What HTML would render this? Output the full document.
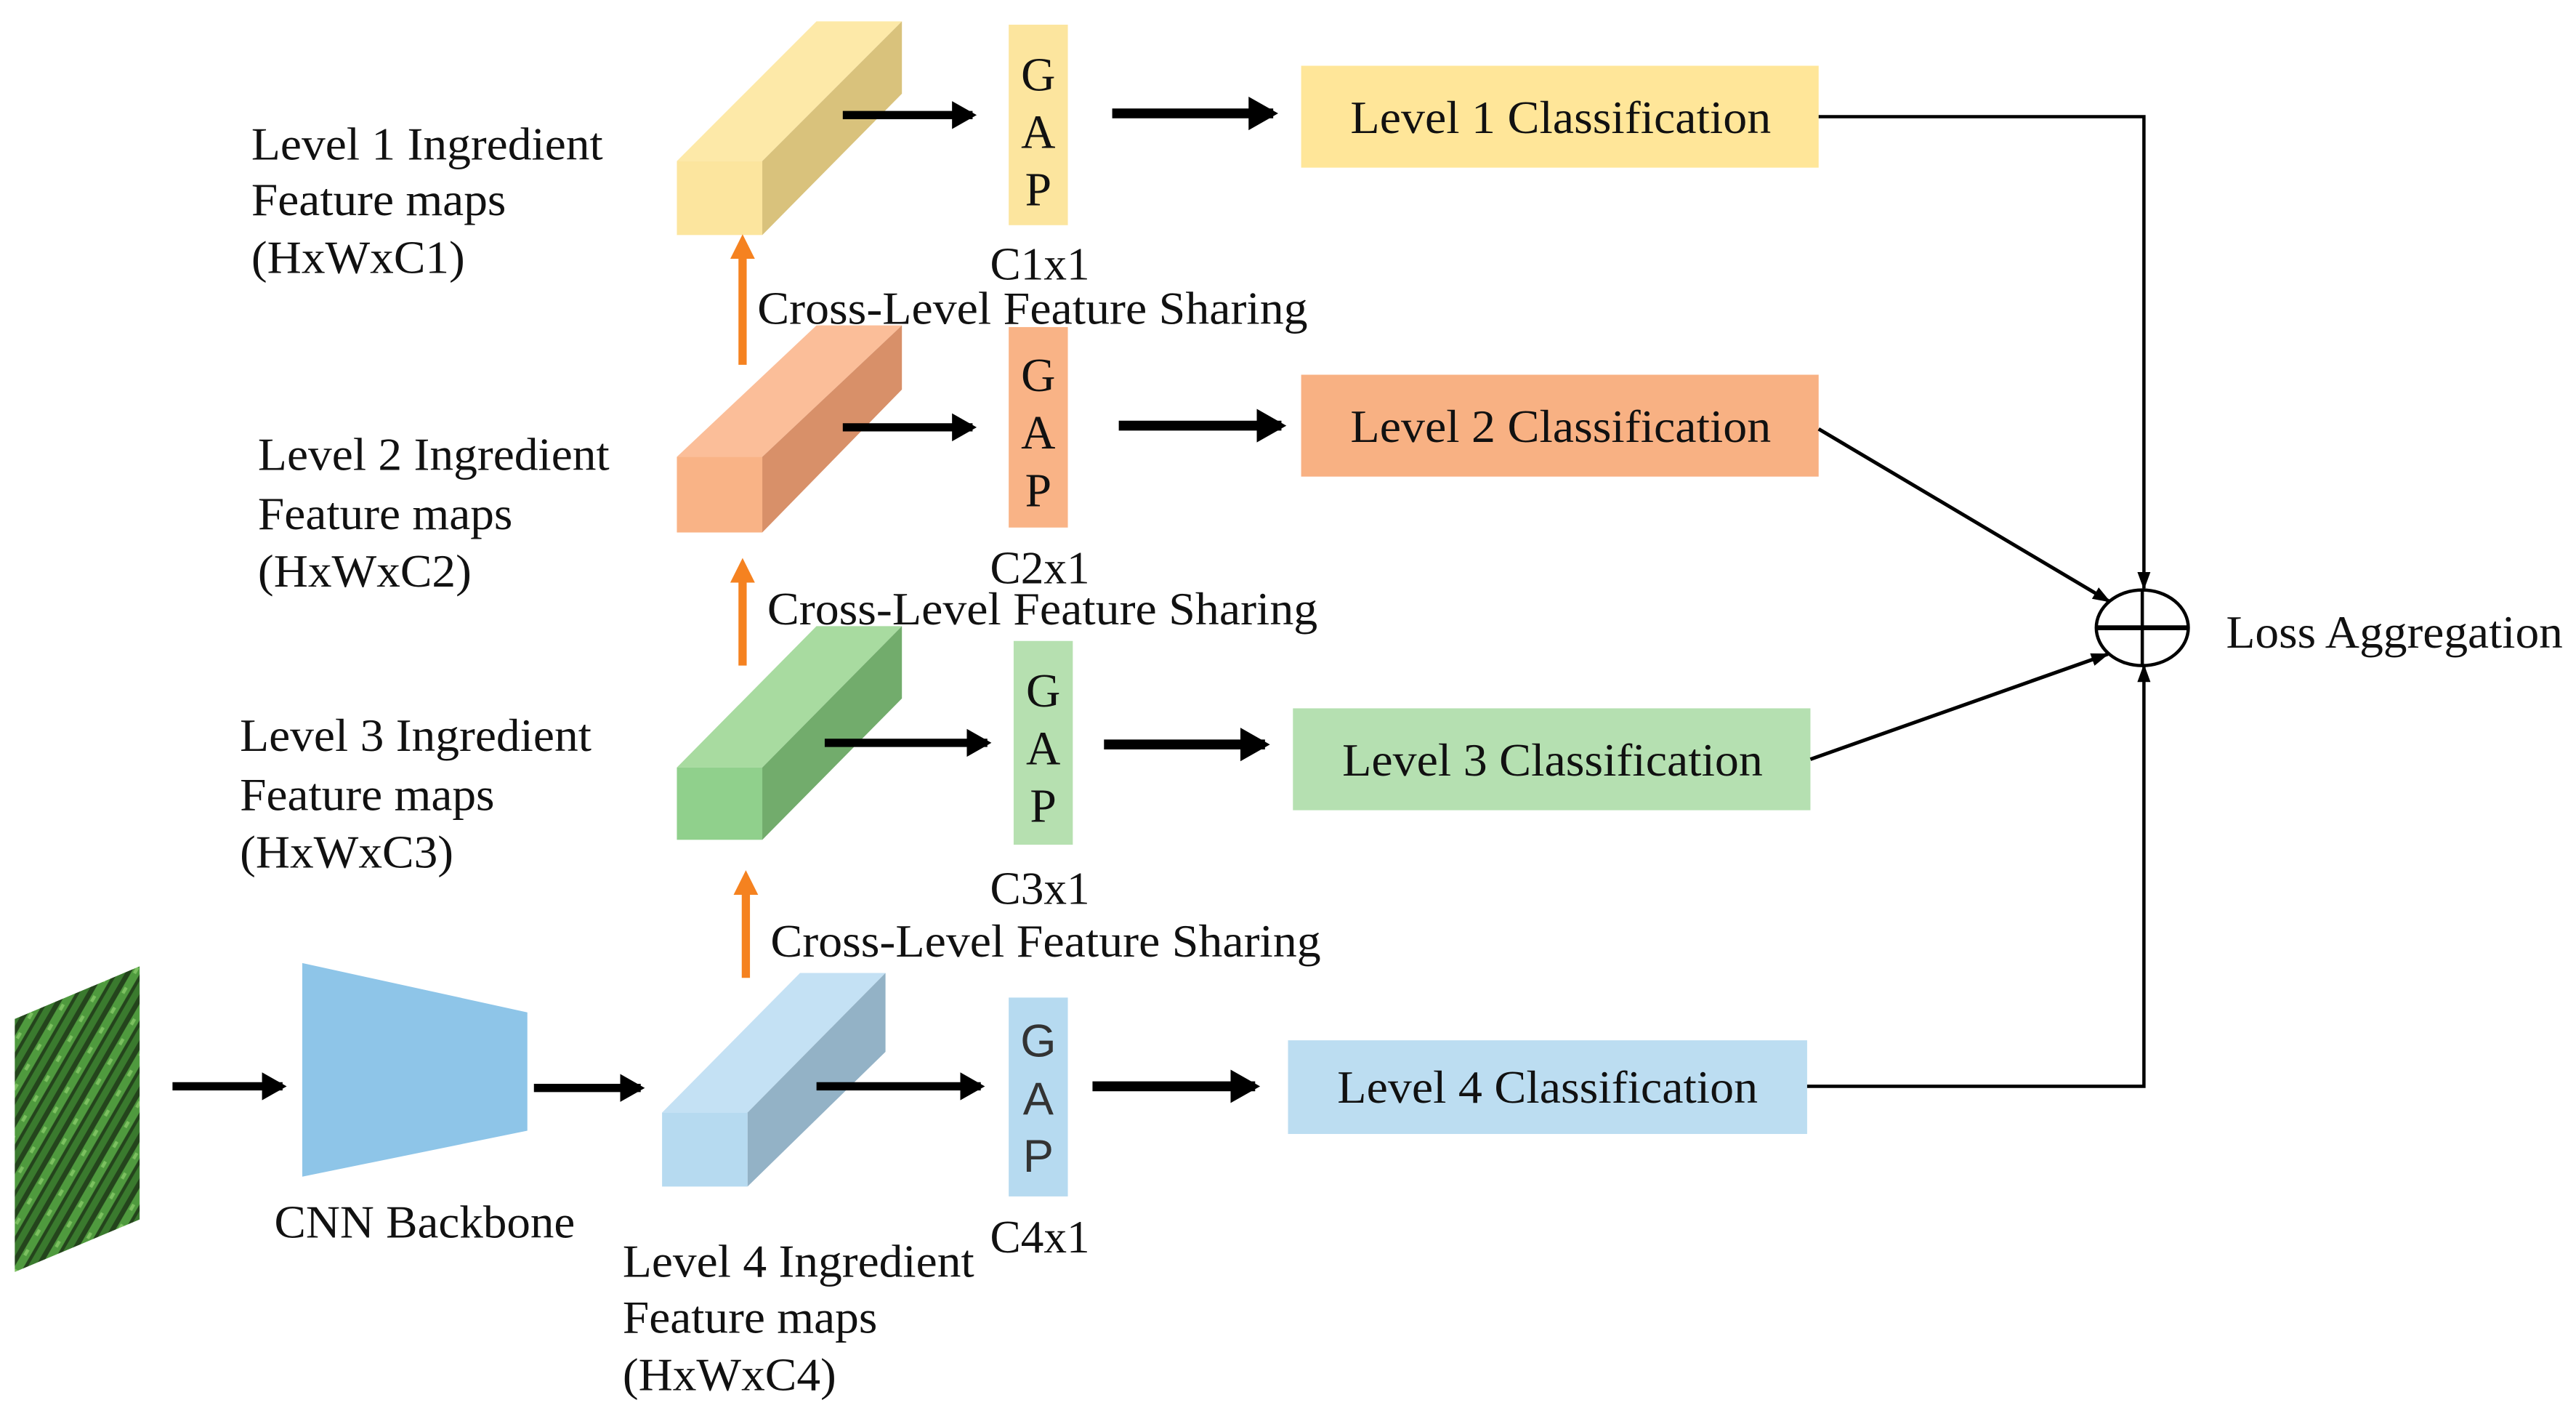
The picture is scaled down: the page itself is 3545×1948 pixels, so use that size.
<!DOCTYPE html>
<html><head><meta charset="utf-8"><style>html,body{margin:0;padding:0;background:#fff}svg{display:block}</style></head>
<body>
<svg width="3545" height="1948" viewBox="0 0 1568 861.6" xmlns="http://www.w3.org/2000/svg" font-family="Liberation Serif, serif" fill="#111">
<defs>
<marker id="ah" markerWidth="4" markerHeight="4" refX="2.5" refY="2" orient="auto" markerUnits="strokeWidth"><path d="M0,0.3 L3,2 L0,3.7 Z" fill="#000"/></marker>
<marker id="th" markerWidth="12" markerHeight="10" refX="10" refY="5" orient="auto" markerUnits="userSpaceOnUse"><path d="M0,1 L11,5 L0,9 Z" fill="#000"/></marker>
<marker id="oh" markerWidth="3" markerHeight="3" refX="1.5" refY="1.5" orient="auto" markerUnits="strokeWidth"><path d="M0,0 L3,1.5 L0,3 Z" fill="#F58220"/></marker>
<pattern id="veg" width="14" height="14" patternUnits="userSpaceOnUse" patternTransform="rotate(-60)">
<rect width="14" height="14" fill="#24441c"/>
<rect y="1" width="14" height="5" fill="#4f9a3e"/>
<rect y="8" width="14" height="4" fill="#3a7a2e"/>
<rect x="4" y="2" width="4" height="2" fill="#7cc060"/>
</pattern>
</defs>

<polygon points="9,620 85,588 85,742 9,774" fill="url(#veg)"/>
<line x1="105" y1="661" x2="172" y2="661" stroke="#000" stroke-width="5" marker-end="url(#ah)"/>
<polygon points="184,586 321,616 321,688 184,716" fill="#8EC5E8"/>
<text x="167" y="753" font-size="28" textLength="183" lengthAdjust="spacingAndGlyphs">CNN Backbone</text>
<line x1="325" y1="662" x2="390" y2="662" stroke="#000" stroke-width="5" marker-end="url(#ah)"/>

<polygon points="412,98 497,13 549,13 464,98" fill="#FDE9A8"/>
<polygon points="464,98 549,13 549,57 464,143" fill="#D9C27C"/>
<rect x="412" y="98" width="52" height="45" fill="#FCE59E"/>
<polygon points="412,278 497,198 549,198 464,278" fill="#FBBE99"/>
<polygon points="464,278 549,198 549,237 464,324" fill="#D89069"/>
<rect x="412" y="278" width="52" height="46" fill="#F9B386"/>
<polygon points="412,467 497,381 549,381 464,467" fill="#A8DBA0"/>
<polygon points="464,467 549,381 549,425 464,511" fill="#72AC6C"/>
<rect x="412" y="467" width="52" height="44" fill="#90D08C"/>
<polygon points="403,677 487,592 539,592 455,677" fill="#C4E1F4"/>
<polygon points="455,677 539,592 539,640 455,722" fill="#93B2C6"/>
<rect x="403" y="677" width="52" height="45" fill="#B6DAF0"/>

<line x1="452" y1="222" x2="452" y2="150" stroke="#F58220" stroke-width="5" marker-end="url(#oh)"/>
<line x1="452" y1="405" x2="452" y2="347" stroke="#F58220" stroke-width="5" marker-end="url(#oh)"/>
<line x1="454" y1="595" x2="454" y2="537" stroke="#F58220" stroke-width="5" marker-end="url(#oh)"/>

<g font-size="28">
<text x="461" y="197" textLength="335" lengthAdjust="spacingAndGlyphs">Cross-Level Feature Sharing</text>
<text x="467" y="380" textLength="335" lengthAdjust="spacingAndGlyphs">Cross-Level Feature Sharing</text>
<text x="469" y="582" textLength="335" lengthAdjust="spacingAndGlyphs">Cross-Level Feature Sharing</text>
</g>

<line x1="513" y1="70" x2="592" y2="70" stroke="#000" stroke-width="5" marker-end="url(#ah)"/>
<line x1="513" y1="260" x2="592" y2="260" stroke="#000" stroke-width="5" marker-end="url(#ah)"/>
<line x1="502" y1="452" x2="601" y2="452" stroke="#000" stroke-width="5" marker-end="url(#ah)"/>
<line x1="497" y1="661" x2="597" y2="661" stroke="#000" stroke-width="5" marker-end="url(#ah)"/>

<rect x="614" y="15" width="36" height="122" fill="#FCE59E"/>
<rect x="614" y="199" width="36" height="122" fill="#F9B386"/>
<rect x="617" y="390" width="36" height="124" fill="#B6E0B0"/>
<rect x="614" y="607" width="36" height="121" fill="#B6DAF0"/>
<g font-size="29" text-anchor="middle">
<text x="632" y="55">G</text><text x="632" y="90">A</text><text x="632" y="125">P</text>
<text x="632" y="238">G</text><text x="632" y="273">A</text><text x="632" y="308">P</text>
<text x="635" y="430">G</text><text x="635" y="465">A</text><text x="635" y="500">P</text>
</g>
<g font-size="28" text-anchor="middle" font-family="Liberation Sans, sans-serif" fill="#333">
<text x="632" y="643">G</text><text x="632" y="678">A</text><text x="632" y="713">P</text>
</g>
<g font-size="28" text-anchor="middle">
<text x="633" y="170">C1x1</text>
<text x="633" y="355">C2x1</text>
<text x="633" y="550">C3x1</text>
<text x="633" y="762">C4x1</text>
</g>

<line x1="677" y1="69" x2="775" y2="69" stroke="#000" stroke-width="6" marker-end="url(#ah)"/>
<line x1="681" y1="259" x2="780" y2="259" stroke="#000" stroke-width="6" marker-end="url(#ah)"/>
<line x1="672" y1="453" x2="770" y2="453" stroke="#000" stroke-width="6" marker-end="url(#ah)"/>
<line x1="665" y1="661" x2="764" y2="661" stroke="#000" stroke-width="6" marker-end="url(#ah)"/>

<rect x="792" y="40" width="315" height="62" fill="#FFE699"/>
<rect x="792" y="228" width="315" height="62" fill="#F8B183"/>
<rect x="787" y="431" width="315" height="62" fill="#B5E0B1"/>
<rect x="784" y="633" width="316" height="57" fill="#BCDDF1"/>
<g font-size="28" text-anchor="middle">
<text x="950" y="81" textLength="256" lengthAdjust="spacingAndGlyphs">Level 1 Classification</text>
<text x="950" y="269" textLength="256" lengthAdjust="spacingAndGlyphs">Level 2 Classification</text>
<text x="945" y="472" textLength="256" lengthAdjust="spacingAndGlyphs">Level 3 Classification</text>
<text x="942" y="671" textLength="256" lengthAdjust="spacingAndGlyphs">Level 4 Classification</text>
</g>

<polyline points="1107,71 1305,71 1305,358" fill="none" stroke="#000" stroke-width="2" marker-end="url(#th)"/>
<line x1="1107" y1="261" x2="1284" y2="366" stroke="#000" stroke-width="2.2" marker-end="url(#th)"/>
<line x1="1102" y1="462" x2="1283" y2="398" stroke="#000" stroke-width="2.2" marker-end="url(#th)"/>
<polyline points="1100,661 1305,661 1305,405" fill="none" stroke="#000" stroke-width="2" marker-end="url(#th)"/>
<ellipse cx="1304" cy="382" rx="28" ry="23" fill="none" stroke="#000" stroke-width="2"/>
<line x1="1276" y1="382" x2="1332" y2="382" stroke="#000" stroke-width="3"/>
<line x1="1304" y1="359" x2="1304" y2="405" stroke="#000" stroke-width="2"/>
<text x="1355" y="394" font-size="28" textLength="205" lengthAdjust="spacingAndGlyphs">Loss Aggregation</text>

<g font-size="28">
<text x="153" y="97" textLength="214" lengthAdjust="spacingAndGlyphs">Level 1 Ingredient</text>
<text x="153" y="131" textLength="155" lengthAdjust="spacingAndGlyphs">Feature maps</text>
<text x="153" y="166" textLength="130" lengthAdjust="spacingAndGlyphs">(HxWxC1)</text>
<text x="157" y="286" textLength="214" lengthAdjust="spacingAndGlyphs">Level 2 Ingredient</text>
<text x="157" y="322" textLength="155" lengthAdjust="spacingAndGlyphs">Feature maps</text>
<text x="157" y="357" textLength="130" lengthAdjust="spacingAndGlyphs">(HxWxC2)</text>
<text x="146" y="457" textLength="214" lengthAdjust="spacingAndGlyphs">Level 3 Ingredient</text>
<text x="146" y="493" textLength="155" lengthAdjust="spacingAndGlyphs">Feature maps</text>
<text x="146" y="528" textLength="130" lengthAdjust="spacingAndGlyphs">(HxWxC3)</text>
<text x="379" y="777" textLength="214" lengthAdjust="spacingAndGlyphs">Level 4 Ingredient</text>
<text x="379" y="811" textLength="155" lengthAdjust="spacingAndGlyphs">Feature maps</text>
<text x="379" y="846" textLength="130" lengthAdjust="spacingAndGlyphs">(HxWxC4)</text>
</g>
</svg>
</body></html>
